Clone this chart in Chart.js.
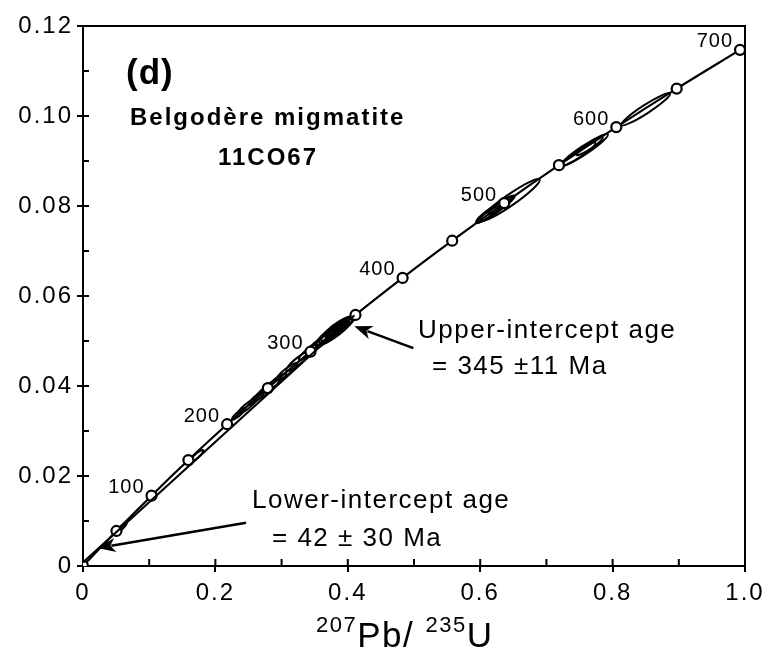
<!DOCTYPE html>
<html>
<head>
<meta charset="utf-8">
<script src="https://cdn.jsdelivr.net/npm/chart.js@4"></script>
<style>
  body { margin: 0; background: #fff; }
  #wrap { width: 769px; height: 651px; }
</style>
</head>
<body>
<div id="wrap"><canvas id="mainchart"></canvas></div>
<script>
// concordia ticks (Ma) and their 207Pb/235U, 206Pb/238U positions
var concordiaAge = [0, 50, 100, 150, 200, 250, 300, 350, 400, 450, 500, 550, 600, 650, 700];
var concordiaX = [0, 0.0505, 0.1035, 0.1592, 0.2177, 0.2792, 0.3437, 0.4116, 0.4828, 0.5577, 0.6363, 0.7189, 0.8056, 0.8968, 0.9925];
var concordiaY = [0, 0.00779, 0.01563, 0.02354, 0.03151, 0.03954, 0.04764, 0.05579, 0.06402, 0.07229, 0.08065, 0.08907, 0.09754, 0.10609, 0.11470];
var ageLabels = [100, 200, 300, 400, 500, 600, 700];

// discordia through the intercepts
var discordiaX = [0, 0.41];
var discordiaY = [0.0008, 0.0557];

// error ellipses: centre, 2s errors, rho
var ellX   = [0.645, 0.622, 0.612, 0.632, 0.757, 0.748, 0.765, 0.850, 0.395, 0.388, 0.382, 0.378, 0.372, 0.385, 0.366, 0.392, 0.375, 0.400, 0.356, 0.340, 0.325, 0.308, 0.292, 0.278, 0.262, 0.248, 0.235, 0.170, 0.058];
var ellY   = [0.0813, 0.0792, 0.0781, 0.0802, 0.0924, 0.0915, 0.0933, 0.1015, 0.0537, 0.0530, 0.0524, 0.0520, 0.0513, 0.0527, 0.0505, 0.0534, 0.0517, 0.0543, 0.0494, 0.0475, 0.0455, 0.0432, 0.0410, 0.0392, 0.0373, 0.0355, 0.0338, 0.0242, 0.0085];
var ellSX  = [0.045, 0.028, 0.018, 0.020, 0.036, 0.026, 0.020, 0.037, 0.016, 0.020, 0.025, 0.018, 0.020, 0.012, 0.014, 0.010, 0.008, 0.012, 0.016, 0.014, 0.018, 0.016, 0.015, 0.018, 0.012, 0.014, 0.010, 0.012, 0.008];
var ellSY  = [0.0047, 0.0029, 0.0019, 0.0021, 0.0036, 0.0026, 0.0020, 0.0036, 0.0019, 0.0024, 0.0030, 0.0022, 0.0024, 0.0015, 0.0017, 0.0012, 0.0010, 0.0015, 0.0019, 0.0017, 0.0022, 0.0019, 0.0018, 0.0022, 0.0015, 0.0017, 0.0013, 0.0016, 0.0011];
var ellRho = [0.95, 0.94, 0.93, 0.93, 0.95, 0.94, 0.93, 0.95, 0.84, 0.84, 0.86, 0.82, 0.84, 0.8, 0.86, 0.8, 0.8, 0.84, 0.88, 0.88, 0.9, 0.9, 0.9, 0.9, 0.9, 0.9, 0.9, 0.92, 0.9];

var FONT = '"Liberation Sans", Arial, Helvetica, sans-serif';

function pts(xs, ys) {
    var out = [];
    for (var i = 0; i < xs.length; i++) out.push({x: xs[i], y: ys[i]});
    return out;
}

var spacing = {
    id: 'spacing',
    beforeDraw: function (chart) { chart.ctx.letterSpacing = '2px'; }
};

var ellipses = {
    id: 'ellipses',
    beforeDatasetsDraw: function (chart) {
        var ctx = chart.ctx, xs = chart.scales.x, ys = chart.scales.y;
        var kx = xs.getPixelForValue(1) - xs.getPixelForValue(0);
        var ky = ys.getPixelForValue(0) - ys.getPixelForValue(1);
        ctx.save();
        ctx.strokeStyle = '#000';
        ctx.lineWidth = 2;
        for (var i = 0; i < ellX.length; i++) {
            var sx = ellSX[i] * kx, sy = ellSY[i] * ky;
            var a = sx * sx, c = sy * sy, b = -ellRho[i] * sx * sy;
            var m = (a + c) / 2, d = Math.sqrt((a - c) * (a - c) / 4 + b * b);
            var th = 0.5 * Math.atan2(2 * b, a - c);
            ctx.beginPath();
            ctx.ellipse(xs.getPixelForValue(ellX[i]), ys.getPixelForValue(ellY[i]),
                Math.sqrt(m + d), Math.sqrt(Math.max(m - d, 0.5)), th, 0, Math.PI * 2);
            ctx.stroke();
        }
        ctx.restore();
    }
};

function arrow(ctx, x0, y0, x1, y1) {
    var ang = Math.atan2(y1 - y0, x1 - x0), L = 18, W = 7;
    var bx = x1 - L * Math.cos(ang), by = y1 - L * Math.sin(ang);
    ctx.beginPath();
    ctx.moveTo(x0, y0);
    ctx.lineTo(bx + 4 * Math.cos(ang), by + 4 * Math.sin(ang));
    ctx.stroke();
    ctx.beginPath();
    ctx.moveTo(x1, y1);
    ctx.lineTo(bx - W * Math.sin(ang), by + W * Math.cos(ang));
    ctx.lineTo(bx + 5 * Math.cos(ang), by + 5 * Math.sin(ang));
    ctx.lineTo(bx + W * Math.sin(ang), by - W * Math.cos(ang));
    ctx.closePath();
    ctx.fill();
}

var annotations = {
    id: 'annotations',
    afterDraw: function (chart) {
        var ctx = chart.ctx, xs = chart.scales.x, ys = chart.scales.y, ca = chart.chartArea;
        var px = function (v) { return xs.getPixelForValue(v); };
        var py = function (v) { return ys.getPixelForValue(v); };
        ctx.save();
        ctx.fillStyle = '#000';
        ctx.strokeStyle = '#000';

        // frame top / right
        ctx.lineWidth = 2;
        ctx.beginPath();
        ctx.moveTo(ca.left, ca.top);
        ctx.lineTo(ca.right, ca.top);
        ctx.lineTo(ca.right, ca.bottom);
        ctx.stroke();

        // inner ticks
        var xv, yv;
        ctx.beginPath();
        for (xv = 0.1; xv < 1; xv += 0.1) {
            ctx.moveTo(px(xv), ca.bottom);
            ctx.lineTo(px(xv), ca.bottom - 7);
        }
        for (yv = 0.01; yv < 0.12; yv += 0.01) {
            ctx.moveTo(ca.left, py(yv));
            ctx.lineTo(ca.left + 6, py(yv));
        }
        ctx.stroke();

        // age labels on the concordia
        ctx.letterSpacing = '1px';
        ctx.font = '20px ' + FONT;
        ctx.textAlign = 'right';
        ctx.textBaseline = 'middle';
        ageLabels.forEach(function (age) {
            var i = concordiaAge.indexOf(age);
            ctx.fillText(String(age), px(concordiaX[i]) - 7, py(concordiaY[i]) - 8);
        });

        // titles
        ctx.textAlign = 'left';
        ctx.letterSpacing = '1px';
        ctx.font = 'bold 35px ' + FONT;
        ctx.fillText('(d)', 126, 74);
        ctx.letterSpacing = '2px';
        ctx.font = 'bold 24px ' + FONT;
        ctx.fillText('Belgodère migmatite', 130, 118);
        ctx.textAlign = 'center';
        ctx.fillText('11CO67', 268, 158);

        ctx.textAlign = 'left';
        ctx.letterSpacing = '1.5px';
        ctx.font = '26px ' + FONT;
        ctx.fillText('Upper-intercept age', 418, 331);
        ctx.fillText('= 345 \u00b111 Ma', 432, 367);
        ctx.fillText('Lower-intercept age', 252, 501);
        ctx.fillText('= 42 \u00b1 30 Ma', 272, 539);

        // arrows
        ctx.lineWidth = 2.5;
        arrow(ctx, px(0.499), py(0.0484), px(0.4098), py(0.0533));
        arrow(ctx, px(0.2463), py(0.0096), px(0.0219), py(0.0040));

        // x axis title
        ctx.letterSpacing = '1.5px';
        ctx.textBaseline = 'alphabetic';
        var x0 = 316, base = 647;
        ctx.font = '22px ' + FONT;
        ctx.fillText('207', x0, base - 15);
        x0 += ctx.measureText('207').width;
        ctx.font = '35px ' + FONT;
        ctx.fillText('Pb/ ', x0, base);
        x0 += ctx.measureText('Pb/ ').width;
        ctx.font = '22px ' + FONT;
        ctx.fillText('235', x0, base - 15);
        x0 += ctx.measureText('235').width;
        ctx.font = '35px ' + FONT;
        ctx.fillText('U', x0, base);
        ctx.restore();
    }
};

var chart = new Chart(document.getElementById('mainchart').getContext('2d'), {
    type: 'scatter',
    data: {
        datasets: [{
            label: 'Discordia',
            data: pts(discordiaX, discordiaY),
            showLine: true,
            borderColor: '#000',
            borderWidth: 2,
            pointRadius: 0
        }, {
            label: 'Concordia',
            data: pts(concordiaX, concordiaY),
            showLine: true,
            cubicInterpolationMode: 'monotone',
            borderColor: '#000',
            borderWidth: 2.2,
            pointRadius: 5,
            pointBorderWidth: 2.2,
            pointBackgroundColor: '#fff',
            pointBorderColor: '#000'
        }]
    },
    options: {
        responsive: true,
        maintainAspectRatio: false,
        animation: false,
        layout: {padding: {top: 26, right: 24, left: 0, bottom: 0}},
        plugins: {legend: {display: false}, tooltip: {enabled: false}},
        scales: {
            x: {
                type: 'linear', min: 0, max: 1.0,
                border: {color: '#000', width: 2},
                grid: {drawOnChartArea: false, color: '#000', lineWidth: 2, tickLength: 6},
                ticks: {
                    stepSize: 0.2, color: '#000', padding: 7,
                    font: {family: FONT, size: 24},
                    callback: function (v) { return v === 0 ? '0' : v.toFixed(1); }
                },
                afterFit: function (s) { s.height = 85; }
            },
            y: {
                type: 'linear', min: 0, max: 0.12,
                border: {color: '#000', width: 2},
                grid: {drawOnChartArea: false, color: '#000', lineWidth: 2, tickLength: 6},
                ticks: {
                    stepSize: 0.02, color: '#000', padding: 4,
                    font: {family: FONT, size: 24},
                    callback: function (v) { return v === 0 ? '0' : v.toFixed(2); }
                },
                afterFit: function (s) { s.width = 83; }
            }
        }
    },
    plugins: [spacing, ellipses, annotations]
});
</script>
</body>
</html>
